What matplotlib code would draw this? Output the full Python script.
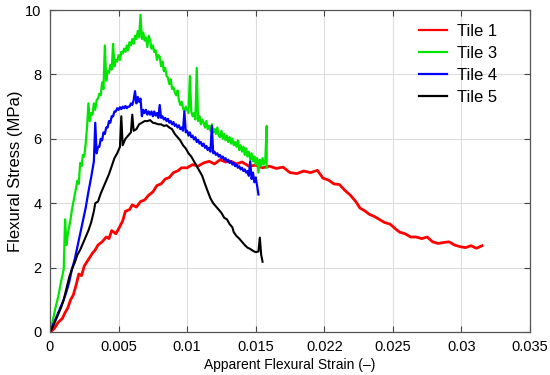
import numpy as np
import matplotlib
matplotlib.use("Agg")
import matplotlib.pyplot as plt

plt.rcParams['font.family'] = ['Liberation Sans', 'DejaVu Sans']

# (strain, stress) readings for each tile
tile1_points = [
    (0.0000, 0.00), (0.0003, 0.10), (0.0006, 0.30), (0.0009, 0.42), (0.0011, 0.60),
    (0.0013, 0.75), (0.0015, 1.00), (0.0017, 1.15), (0.0019, 1.45), (0.0021, 1.80),
    (0.0023, 1.75), (0.0025, 2.05), (0.0028, 2.25), (0.0031, 2.45), (0.0033, 2.55),
    (0.0035, 2.70), (0.0038, 2.80), (0.0041, 2.95), (0.0043, 2.90), (0.0045, 3.15),
    (0.0048, 3.05), (0.0050, 3.20), (0.0053, 3.45), (0.0055, 3.75), (0.0058, 3.80),
    (0.0060, 3.95), (0.0063, 3.88), (0.0066, 4.05), (0.0069, 4.10), (0.0072, 4.25),
    (0.0075, 4.35), (0.0078, 4.55), (0.0081, 4.60), (0.0084, 4.75), (0.0087, 4.80),
    (0.0090, 4.95), (0.0093, 5.00), (0.0096, 5.10), (0.0100, 5.10), (0.0104, 5.20),
    (0.0108, 5.15), (0.0112, 5.25), (0.0116, 5.30), (0.0120, 5.22), (0.0124, 5.35),
    (0.0128, 5.28), (0.0132, 5.30), (0.0136, 5.22), (0.0140, 5.28), (0.0145, 5.15),
    (0.0150, 5.18), (0.0155, 5.10), (0.0160, 5.15), (0.0165, 5.08), (0.0170, 5.12),
    (0.0175, 4.95), (0.0180, 4.92), (0.0185, 5.00), (0.0190, 4.95), (0.0195, 5.02),
    (0.0199, 4.78), (0.0203, 4.72), (0.0207, 4.60), (0.0211, 4.58), (0.0215, 4.40),
    (0.0219, 4.25), (0.0223, 4.05), (0.0226, 3.85), (0.0230, 3.75), (0.0233, 3.65),
    (0.0236, 3.60), (0.0240, 3.50), (0.0244, 3.40), (0.0248, 3.35), (0.0252, 3.20),
    (0.0255, 3.10), (0.0259, 3.05), (0.0263, 2.95), (0.0267, 2.95), (0.0271, 2.90),
    (0.0275, 2.95), (0.0279, 2.80), (0.0283, 2.75), (0.0287, 2.78), (0.0291, 2.80),
    (0.0295, 2.70), (0.0299, 2.65), (0.0303, 2.62), (0.0307, 2.68), (0.0311, 2.60),
    (0.0315, 2.68),
]

tile3_points = [
    (0.0000, 0.00), (0.0002, 0.35), (0.0004, 0.75), (0.0006, 1.10), (0.0008, 1.55),
    (0.0010, 1.95), (0.0011, 3.50), (0.0012, 2.70), (0.0013, 3.05), (0.0015, 3.50),
    (0.0016, 3.80), (0.0018, 4.25), (0.0020, 4.70), (0.0021, 4.60), (0.0022, 5.25),
    (0.0023, 5.15), (0.0024, 5.50), (0.0025, 5.45), (0.0026, 5.85), (0.0027, 6.35),
    (0.0028, 7.10), (0.0029, 6.55), (0.0030, 6.80), (0.0031, 6.75), (0.0032, 7.10),
    (0.0033, 6.90), (0.0034, 7.20), (0.0035, 7.25), (0.0036, 7.40), (0.0037, 7.35),
    (0.0038, 7.75), (0.0039, 7.55), (0.0040, 8.90), (0.0041, 7.80), (0.0042, 8.10),
    (0.0043, 8.05), (0.0044, 8.30), (0.0045, 8.15), (0.0046, 8.95), (0.0047, 8.25),
    (0.0048, 8.45), (0.0049, 8.40), (0.0050, 8.60), (0.0051, 8.45), (0.0052, 8.70),
    (0.0053, 8.65), (0.0054, 8.80), (0.0055, 8.70), (0.0056, 8.90), (0.0057, 8.75),
    (0.0058, 9.00), (0.0059, 8.90), (0.0060, 9.10), (0.0061, 8.95), (0.0062, 9.20),
    (0.0063, 9.10), (0.0064, 9.35), (0.0065, 9.15), (0.0066, 9.85), (0.0067, 9.10),
    (0.0068, 9.30), (0.0069, 9.05), (0.0070, 9.15), (0.0071, 8.85), (0.0072, 9.20),
    (0.0073, 9.05), (0.0074, 8.80), (0.0075, 8.90), (0.0076, 8.70), (0.0077, 8.75),
    (0.0078, 8.45), (0.0079, 8.60), (0.0080, 8.55), (0.0081, 8.25), (0.0082, 8.40),
    (0.0083, 8.10), (0.0084, 8.20), (0.0085, 7.95), (0.0086, 7.90), (0.0087, 7.70),
    (0.0088, 7.85), (0.0089, 7.55), (0.0090, 7.60), (0.0091, 7.45), (0.0092, 7.35),
    (0.0093, 7.50), (0.0094, 7.20), (0.0095, 7.05), (0.0096, 7.15), (0.0097, 6.95),
    (0.0098, 6.85), (0.0099, 7.00), (0.0100, 6.90), (0.0101, 6.80), (0.0102, 7.95),
    (0.0103, 6.85), (0.0104, 6.70), (0.0105, 6.80), (0.0106, 6.60), (0.0107, 8.20),
    (0.0108, 6.55), (0.0109, 6.70), (0.0110, 6.45), (0.0111, 6.60), (0.0112, 6.50),
    (0.0113, 6.35), (0.0114, 6.55), (0.0115, 6.30), (0.0116, 6.40), (0.0117, 6.25),
    (0.0118, 6.45), (0.0119, 6.20), (0.0120, 6.30), (0.0121, 6.15), (0.0122, 6.35),
    (0.0123, 6.10), (0.0124, 6.05), (0.0125, 6.25), (0.0126, 6.00), (0.0127, 6.15),
    (0.0128, 5.95), (0.0129, 6.10), (0.0130, 5.90), (0.0131, 6.05), (0.0132, 5.85),
    (0.0133, 6.00), (0.0134, 5.80), (0.0135, 5.90), (0.0136, 5.75), (0.0137, 5.95),
    (0.0138, 5.65), (0.0139, 5.80), (0.0140, 5.60), (0.0141, 5.75), (0.0142, 5.50),
    (0.0143, 5.70), (0.0144, 5.45), (0.0145, 5.60), (0.0146, 5.35), (0.0147, 5.55),
    (0.0148, 5.30), (0.0149, 5.45), (0.0150, 5.20), (0.0151, 5.40), (0.0152, 4.95),
    (0.0153, 5.35), (0.0154, 5.15), (0.0155, 5.40), (0.0156, 5.20), (0.0157, 5.35),
    (0.0158, 6.40), (0.0158, 5.10),
]

tile4_points = [
    (0.0000, 0.00), (0.0002, 0.20), (0.0004, 0.40), (0.0006, 0.60), (0.0008, 0.80),
    (0.0010, 1.00), (0.0012, 1.25), (0.0014, 1.55), (0.0016, 1.95), (0.0018, 2.25),
    (0.0020, 2.65), (0.0022, 3.05), (0.0024, 3.45), (0.0026, 3.85), (0.0028, 4.35),
    (0.0030, 4.80), (0.0032, 5.30), (0.0033, 6.50), (0.0034, 5.55), (0.0035, 5.75),
    (0.0036, 5.75), (0.0037, 6.00), (0.0038, 5.95), (0.0039, 6.20), (0.0040, 6.15),
    (0.0041, 6.35), (0.0042, 6.35), (0.0043, 6.55), (0.0044, 6.50), (0.0045, 6.70),
    (0.0046, 6.70), (0.0047, 6.85), (0.0048, 6.85), (0.0049, 6.95), (0.0050, 6.90),
    (0.0051, 6.98), (0.0052, 6.92), (0.0053, 7.00), (0.0054, 6.95), (0.0055, 7.02),
    (0.0056, 6.95), (0.0057, 7.00), (0.0058, 7.00), (0.0059, 7.10), (0.0060, 7.05),
    (0.0061, 7.20), (0.0062, 7.48), (0.0063, 7.10), (0.0064, 7.30), (0.0065, 7.15),
    (0.0066, 7.25), (0.0067, 6.70), (0.0068, 6.90), (0.0069, 6.80), (0.0070, 6.90),
    (0.0071, 6.75), (0.0072, 6.85), (0.0073, 6.75), (0.0074, 6.85), (0.0075, 6.70),
    (0.0076, 6.85), (0.0077, 6.72), (0.0078, 6.80), (0.0079, 6.65), (0.0080, 7.05),
    (0.0081, 6.65), (0.0082, 6.70), (0.0083, 6.60), (0.0084, 6.65), (0.0085, 6.55),
    (0.0086, 6.62), (0.0087, 6.50), (0.0088, 6.55), (0.0089, 6.45), (0.0090, 6.52),
    (0.0091, 6.40), (0.0092, 6.45), (0.0093, 6.35), (0.0094, 6.42), (0.0095, 6.30),
    (0.0096, 6.35), (0.0097, 6.25), (0.0098, 6.85), (0.0099, 6.20), (0.0100, 6.25),
    (0.0101, 6.10), (0.0102, 6.20), (0.0103, 6.05), (0.0104, 6.10), (0.0105, 5.98),
    (0.0106, 6.05), (0.0107, 5.90), (0.0108, 5.97), (0.0109, 5.85), (0.0110, 5.90),
    (0.0111, 5.78), (0.0112, 5.85), (0.0113, 5.72), (0.0114, 5.78), (0.0115, 5.65),
    (0.0116, 5.72), (0.0117, 5.60), (0.0118, 6.40), (0.0119, 5.55), (0.0120, 5.60),
    (0.0121, 5.50), (0.0122, 5.55), (0.0123, 5.45), (0.0124, 5.50), (0.0125, 5.40),
    (0.0126, 5.45), (0.0127, 5.35), (0.0128, 5.40), (0.0129, 5.30), (0.0130, 5.35),
    (0.0131, 5.25), (0.0132, 5.30), (0.0133, 5.20), (0.0134, 5.25), (0.0135, 5.15),
    (0.0136, 5.20), (0.0137, 5.10), (0.0138, 5.15), (0.0139, 5.05), (0.0140, 5.10),
    (0.0141, 5.00), (0.0142, 5.05), (0.0143, 4.95), (0.0144, 5.00), (0.0145, 4.85),
    (0.0146, 5.30), (0.0147, 4.75), (0.0148, 4.95), (0.0149, 4.65), (0.0150, 4.80),
    (0.0151, 4.55), (0.0152, 4.27),
]

tile5_points = [
    (0.0000, 0.00), (0.0002, 0.15), (0.0004, 0.35), (0.0006, 0.55), (0.0008, 0.75),
    (0.0010, 1.00), (0.0012, 1.35), (0.0014, 1.70), (0.0016, 1.95), (0.0018, 2.15),
    (0.0020, 2.40), (0.0022, 2.55), (0.0024, 2.75), (0.0026, 2.95), (0.0028, 3.15),
    (0.0030, 3.40), (0.0032, 3.75), (0.0033, 4.00), (0.0035, 4.05), (0.0037, 4.30),
    (0.0039, 4.50), (0.0041, 4.70), (0.0043, 4.90), (0.0045, 5.15), (0.0047, 5.40),
    (0.0049, 5.55), (0.0051, 5.75), (0.0052, 6.70), (0.0053, 5.80), (0.0055, 6.00),
    (0.0057, 6.10), (0.0059, 6.20), (0.0060, 6.75), (0.0061, 6.25), (0.0063, 6.30),
    (0.0065, 6.45), (0.0067, 6.50), (0.0069, 6.55), (0.0071, 6.55), (0.0073, 6.58),
    (0.0075, 6.50), (0.0077, 6.48), (0.0079, 6.45), (0.0081, 6.45), (0.0083, 6.40),
    (0.0085, 6.42), (0.0087, 6.35), (0.0089, 6.30), (0.0091, 6.15), (0.0093, 6.05),
    (0.0095, 5.95), (0.0097, 5.80), (0.0099, 5.70), (0.0101, 5.55), (0.0103, 5.45),
    (0.0105, 5.30), (0.0107, 5.15), (0.0109, 5.00), (0.0111, 4.85), (0.0113, 4.60),
    (0.0115, 4.37), (0.0117, 4.15), (0.0119, 4.00), (0.0121, 3.90), (0.0123, 3.80),
    (0.0125, 3.70), (0.0127, 3.55), (0.0129, 3.50), (0.0131, 3.35), (0.0133, 3.25),
    (0.0134, 3.10), (0.0136, 2.98), (0.0138, 2.90), (0.0140, 2.80), (0.0142, 2.70),
    (0.0144, 2.62), (0.0146, 2.58), (0.0148, 2.52), (0.0150, 2.48), (0.0152, 2.50),
    (0.0153, 2.93), (0.0154, 2.40), (0.0155, 2.18),
]

tile_names = ['Tile 1', 'Tile 3', 'Tile 4', 'Tile 5']
tile_colors = ['#ff0000', '#00e600', '#0000ff', '#000000']

x_ticks = [0, 0.005, 0.01, 0.015, 0.02, 0.025, 0.03, 0.035]
x_tick_labels = ['0', '0.005', '0.01', '0.015', '0.022', '0.025', '0.03', '0.035']
y_ticks = [0, 2, 4, 6, 8, 10]

fig = plt.figure(figsize=(5.5, 3.75), dpi=100)
ax = fig.add_axes([0.0909, 0.1147, 0.8727, 0.8586])

widths = [2.0, 1.6, 1.6, 1.5]
for pts, name, col, lw in zip([tile1_points, tile3_points, tile4_points, tile5_points],
                              tile_names, tile_colors, widths):
    strain, stress = zip(*pts)
    ax.plot(strain, stress, color=col, lw=lw, label=name)

ax.set_xlim(0, 0.035)
ax.set_ylim(0, 10)
ax.set_xticks(x_ticks)
ax.set_xticklabels(x_tick_labels)
ax.set_yticks(y_ticks)
ax.grid(True, color='#dddddd', lw=0.8)
ax.set_axisbelow(True)
ax.tick_params(direction='in', top=True, right=True, length=4, labelsize=10.5,
               color='#444444', pad=6)
for s in ax.spines.values():
    s.set_color('#555555')
    s.set_linewidth(0.9)

ax.set_xlabel('Apparent Flexural Strain (\u2013)', fontsize=10, labelpad=3)
ax.set_ylabel('Flexural Stress (MPa)', fontsize=12, labelpad=2)

leg = ax.legend(loc='upper right', bbox_to_anchor=(0.946, 0.978), borderaxespad=0,
                frameon=False, fontsize=12, handlelength=1.7, handletextpad=0.6,
                labelspacing=0.42)
for line in leg.get_lines():
    line.set_linewidth(1.6)

fig.savefig('out.png', dpi=100)
